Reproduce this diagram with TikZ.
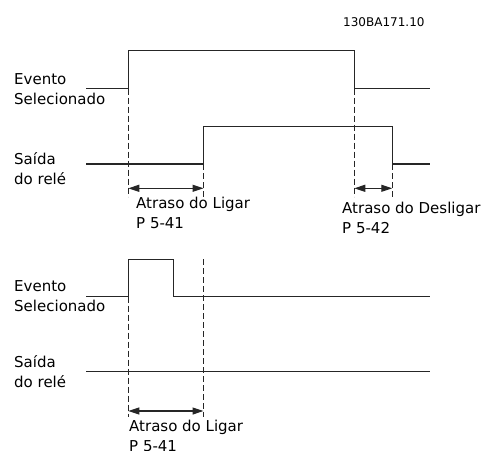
\documentclass[tikz,border=0pt]{standalone}
\usepackage{fontspec}
\setmainfont{DejaVu Sans}
\usetikzlibrary{arrows.meta}

\begin{document}
\begin{tikzpicture}[x=1pt,y=-1pt,
		signal/.style={line width=1.4pt, black!85},
		guide/.style={line width=1pt, black!85, dash pattern=on 6pt off 3pt},
		delay/.style={line width=1.2pt, black!85, {Triangle[length=11pt,width=7pt]}-{Triangle[length=11pt,width=7pt]}},
		lbl/.style={anchor=north west, align=left, inner sep=0pt, font=\fontsize{15}{20}\selectfont}]
	\useasboundingbox (0,0) rectangle (487,450);
	\node[anchor=north west, inner sep=0pt, font=\fontsize{12}{14}\selectfont] (code) at (343,17) {130BA171.10};

	\def\ton{128.3}
	\def\tdel{203.5}
	\def\toff{354.3}
	\def\trel{392.3}

	\node[lbl] (ev1) at (14,73) {Evento\\Selecionado};
	\node[lbl] (out1) at (14,152) {Saída\\do relé};
	\draw[signal] (86,88.7) -- (\ton,88.7) -- (\ton,50.7) -- (\toff,50.7) -- (\toff,88.7) -- (430,88.7);
	\draw[signal] (86,164) -- (\tdel,164) -- (\tdel,126.7) -- (\trel,126.7) -- (\trel,164) -- (430,164);
	\draw[guide] (\ton,88.7) -- (\ton,196.7);
	\draw[guide] (\tdel,164) -- (\tdel,196.7);
	\draw[guide] (\toff,88.7) -- (\toff,196.7);
	\draw[guide] (\trel,164) -- (\trel,196.7);
	\coordinate (a1) at (\ton,188.3);
	\coordinate (b1) at (\tdel,188.3);
	\coordinate (a2) at (\toff,188.3);
	\coordinate (b2) at (\trel,188.3);
	\draw[delay] (a1) -- (b1);
	\draw[delay] (a2) -- (b2);
	\node[lbl] (on1) at (136,197) {Atraso do Ligar\\P 5-41};
	\node[lbl] (off1) at (342,202) {Atraso do Desligar\\P 5-42};

	\node[lbl] (ev2) at (14,280) {Evento\\Selecionado};
	\node[lbl] (out2) at (14,355) {Saída\\do relé};
	\draw[signal] (86,296.7) -- (\ton,296.7) -- (\ton,259.3) -- (173.3,259.3) -- (173.3,296.7) -- (430,296.7);
	\draw[signal] (86,371.7) -- (430,371.7);
	\draw[guide] (\ton,296.7) -- (\ton,416.7);
	\draw[guide] (\tdel,259.3) -- (\tdel,416.7);
	\coordinate (a3) at (\ton,411);
	\coordinate (b3) at (\tdel,411);
	\draw[delay] (a3) -- (b3);
	\node[lbl] (on2) at (129,420) {Atraso do Ligar\\P 5-41};
\end{tikzpicture}
\end{document}
